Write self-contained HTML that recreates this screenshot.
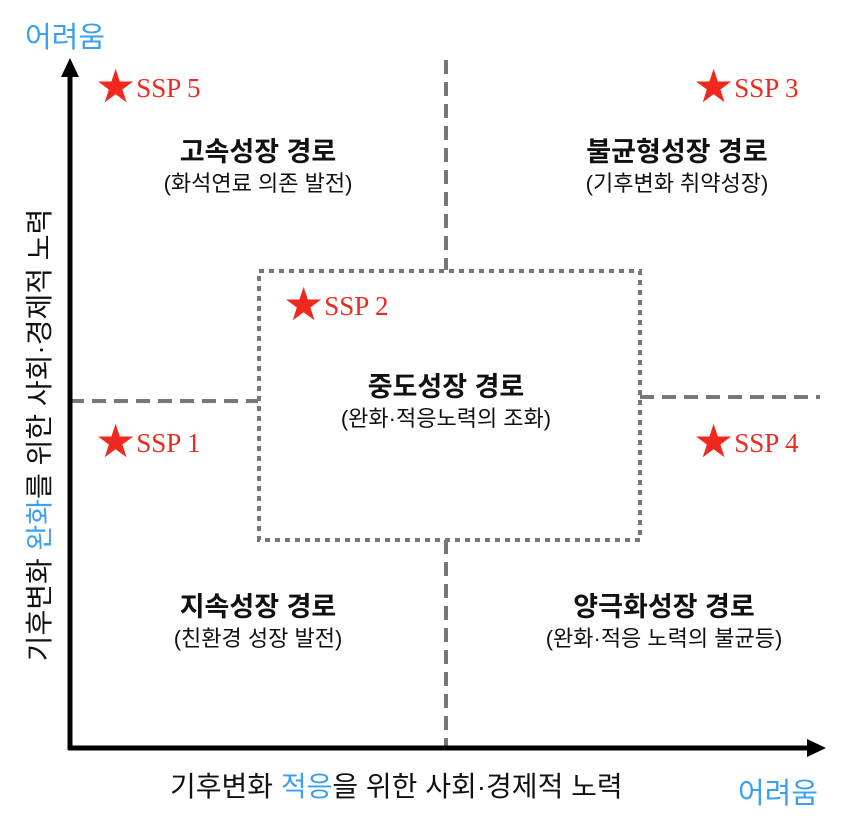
<!DOCTYPE html>
<html><head><meta charset="utf-8"><style>
body{margin:0;background:#fff;width:858px;height:823px;position:relative;overflow:hidden;font-family:"Liberation Sans","Noto Sans CJK KR",sans-serif;}
.t{position:absolute;white-space:nowrap;}
.blue{color:#3aa0ef;}
.ssp{position:absolute;color:#f0281e;font-family:"Liberation Serif",serif;font-size:27px;white-space:nowrap;line-height:40px;}
.ssp b{font-family:"DejaVu Sans",sans-serif;font-weight:normal;font-size:46px;vertical-align:-5px;margin-right:0px;}
.ti{position:absolute;text-align:center;width:340px;font-size:27px;font-weight:bold;color:#111;line-height:32px;}
.ti span{display:block;font-size:22px;font-weight:normal;margin-top:2px;line-height:28px;}
</style></head><body>
<svg width="858" height="823" style="position:absolute;left:0;top:0">
<g stroke="#777" stroke-width="4" stroke-dasharray="14,8" fill="none">
<line x1="446" y1="60" x2="446" y2="270"/>
<line x1="446" y1="540" x2="446" y2="748"/>
<line x1="70" y1="401" x2="258" y2="401"/>
<line x1="640" y1="397" x2="820" y2="397"/>
</g>
<rect x="259" y="271" width="381" height="269" fill="none" stroke="#777" stroke-width="4" stroke-dasharray="5,5"/>
<line x1="70" y1="750" x2="70" y2="75" stroke="#000" stroke-width="5"/>
<polygon points="70,58 61,77 79,77" fill="#000"/>
<line x1="68" y1="748" x2="808" y2="748" stroke="#000" stroke-width="5"/>
<polygon points="826,748 807,739 807,757" fill="#000"/>
</svg>
<div class="t blue" style="left:25px;top:14px;font-size:29px">어려움</div>
<div class="t blue" style="left:738px;top:770px;font-size:29px">어려움</div>
<div class="t" style="left:170px;top:765px;font-size:28px;color:#111">기후변화 <span class="blue">적응</span>을 위한 사회·경제적 노력</div>
<div class="t" style="left:38px;top:435px;font-size:28px;color:#111;transform:translate(-50%,-50%) rotate(-90deg)">기후변화 <span class="blue">완화</span>를 위한 사회·경제적 노력</div>
<div class="ssp" style="left:95px;top:66px"><b>★</b>SSP 5</div>
<div class="ssp" style="left:693px;top:66px"><b>★</b>SSP 3</div>
<div class="ssp" style="left:283px;top:284px"><b>★</b>SSP 2</div>
<div class="ssp" style="left:95px;top:421px"><b>★</b>SSP 1</div>
<div class="ssp" style="left:693px;top:421px"><b>★</b>SSP 4</div>
<div class="ti" style="left:88px;top:136px">고속성장 경로<span>(화석연료 의존 발전)</span></div>
<div class="ti" style="left:507px;top:136px">불균형성장 경로<span>(기후변화 취약성장)</span></div>
<div class="ti" style="left:276px;top:371px">중도성장 경로<span>(완화·적응노력의 조화)</span></div>
<div class="ti" style="left:88px;top:591px">지속성장 경로<span>(친환경 성장 발전)</span></div>
<div class="ti" style="left:494px;top:591px">양극화성장 경로<span>(완화·적응 노력의 불균등)</span></div>
</body></html>
